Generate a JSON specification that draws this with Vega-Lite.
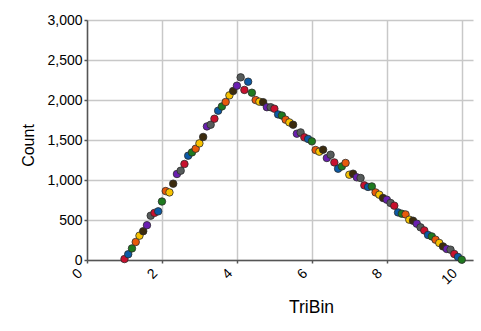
{
  "$schema": "https://vega.github.io/schema/vega-lite/v6.json",
  "autosize": "none",
  "padding": {"left": 87, "top": 20, "right": 8, "bottom": 71},
  "width": 386,
  "height": 240,
  "background": "white",
  "config": {
    "view": {"stroke": null},
    "font": "Liberation Sans"
  },
  "data": {
    "values": [
      {"TriBin": 1.0, "Count": 12, "g": "c1"},
      {"TriBin": 1.1, "Count": 72, "g": "c2"},
      {"TriBin": 1.2, "Count": 145, "g": "c3"},
      {"TriBin": 1.3, "Count": 225, "g": "c4"},
      {"TriBin": 1.4, "Count": 304, "g": "c5"},
      {"TriBin": 1.5, "Count": 360, "g": "c6"},
      {"TriBin": 1.6, "Count": 435, "g": "c7"},
      {"TriBin": 1.7, "Count": 554, "g": "c8"},
      {"TriBin": 1.8, "Count": 589, "g": "c1"},
      {"TriBin": 1.9, "Count": 608, "g": "c2"},
      {"TriBin": 2.0, "Count": 731, "g": "c3"},
      {"TriBin": 2.1, "Count": 862, "g": "c4"},
      {"TriBin": 2.2, "Count": 845, "g": "c5"},
      {"TriBin": 2.3, "Count": 954, "g": "c6"},
      {"TriBin": 2.4, "Count": 1075, "g": "c7"},
      {"TriBin": 2.5, "Count": 1116, "g": "c8"},
      {"TriBin": 2.6, "Count": 1200, "g": "c1"},
      {"TriBin": 2.7, "Count": 1304, "g": "c2"},
      {"TriBin": 2.8, "Count": 1345, "g": "c3"},
      {"TriBin": 2.9, "Count": 1391, "g": "c4"},
      {"TriBin": 3.0, "Count": 1458, "g": "c5"},
      {"TriBin": 3.1, "Count": 1538, "g": "c6"},
      {"TriBin": 3.2, "Count": 1670, "g": "c7"},
      {"TriBin": 3.3, "Count": 1691, "g": "c8"},
      {"TriBin": 3.4, "Count": 1766, "g": "c1"},
      {"TriBin": 3.5, "Count": 1866, "g": "c2"},
      {"TriBin": 3.6, "Count": 1920, "g": "c3"},
      {"TriBin": 3.7, "Count": 1975, "g": "c4"},
      {"TriBin": 3.8, "Count": 2058, "g": "c5"},
      {"TriBin": 3.9, "Count": 2113, "g": "c6"},
      {"TriBin": 4.0, "Count": 2179, "g": "c7"},
      {"TriBin": 4.1, "Count": 2283, "g": "c8"},
      {"TriBin": 4.2, "Count": 2126, "g": "c1"},
      {"TriBin": 4.3, "Count": 2229, "g": "c2"},
      {"TriBin": 4.4, "Count": 2091, "g": "c3"},
      {"TriBin": 4.5, "Count": 2000, "g": "c4"},
      {"TriBin": 4.6, "Count": 1979, "g": "c5"},
      {"TriBin": 4.7, "Count": 1973, "g": "c6"},
      {"TriBin": 4.8, "Count": 1910, "g": "c7"},
      {"TriBin": 4.9, "Count": 1910, "g": "c8"},
      {"TriBin": 5.0, "Count": 1891, "g": "c1"},
      {"TriBin": 5.1, "Count": 1820, "g": "c2"},
      {"TriBin": 5.2, "Count": 1806, "g": "c3"},
      {"TriBin": 5.3, "Count": 1754, "g": "c4"},
      {"TriBin": 5.4, "Count": 1720, "g": "c5"},
      {"TriBin": 5.5, "Count": 1691, "g": "c6"},
      {"TriBin": 5.6, "Count": 1579, "g": "c7"},
      {"TriBin": 5.7, "Count": 1595, "g": "c8"},
      {"TriBin": 5.8, "Count": 1533, "g": "c1"},
      {"TriBin": 5.9, "Count": 1513, "g": "c2"},
      {"TriBin": 6.0, "Count": 1483, "g": "c3"},
      {"TriBin": 6.1, "Count": 1375, "g": "c4"},
      {"TriBin": 6.2, "Count": 1354, "g": "c5"},
      {"TriBin": 6.3, "Count": 1379, "g": "c6"},
      {"TriBin": 6.4, "Count": 1275, "g": "c7"},
      {"TriBin": 6.5, "Count": 1316, "g": "c8"},
      {"TriBin": 6.6, "Count": 1220, "g": "c1"},
      {"TriBin": 6.7, "Count": 1141, "g": "c2"},
      {"TriBin": 6.8, "Count": 1170, "g": "c3"},
      {"TriBin": 6.9, "Count": 1213, "g": "c4"},
      {"TriBin": 7.0, "Count": 1066, "g": "c5"},
      {"TriBin": 7.1, "Count": 1079, "g": "c6"},
      {"TriBin": 7.2, "Count": 1033, "g": "c7"},
      {"TriBin": 7.3, "Count": 1025, "g": "c8"},
      {"TriBin": 7.4, "Count": 933, "g": "c1"},
      {"TriBin": 7.5, "Count": 913, "g": "c2"},
      {"TriBin": 7.6, "Count": 920, "g": "c3"},
      {"TriBin": 7.7, "Count": 845, "g": "c4"},
      {"TriBin": 7.8, "Count": 816, "g": "c5"},
      {"TriBin": 7.9, "Count": 775, "g": "c6"},
      {"TriBin": 8.0, "Count": 754, "g": "c7"},
      {"TriBin": 8.1, "Count": 713, "g": "c8"},
      {"TriBin": 8.2, "Count": 679, "g": "c1"},
      {"TriBin": 8.3, "Count": 595, "g": "c2"},
      {"TriBin": 8.4, "Count": 579, "g": "c3"},
      {"TriBin": 8.5, "Count": 570, "g": "c4"},
      {"TriBin": 8.6, "Count": 504, "g": "c5"},
      {"TriBin": 8.7, "Count": 491, "g": "c6"},
      {"TriBin": 8.8, "Count": 454, "g": "c7"},
      {"TriBin": 8.9, "Count": 408, "g": "c8"},
      {"TriBin": 9.0, "Count": 370, "g": "c1"},
      {"TriBin": 9.1, "Count": 313, "g": "c2"},
      {"TriBin": 9.2, "Count": 295, "g": "c3"},
      {"TriBin": 9.3, "Count": 254, "g": "c4"},
      {"TriBin": 9.4, "Count": 213, "g": "c5"},
      {"TriBin": 9.5, "Count": 170, "g": "c6"},
      {"TriBin": 9.6, "Count": 138, "g": "c7"},
      {"TriBin": 9.7, "Count": 129, "g": "c8"},
      {"TriBin": 9.8, "Count": 75, "g": "c1"},
      {"TriBin": 9.9, "Count": 38, "g": "c2"},
      {"TriBin": 10.0, "Count": 4, "g": "c3"}
    ]
  },
  "mark": {"type": "circle", "size": 56, "opacity": 1, "stroke": "#2b2b2b", "strokeWidth": 0.8},
  "encoding": {
    "x": {
      "field": "TriBin",
      "type": "quantitative",
      "scale": {"domain": [0, 10.3], "nice": false, "zero": false},
      "axis": {
        "values": [0, 2, 4, 6, 8, 10],
        "format": "d",
        "title": "TriBin",
        "titleFont": "Liberation Sans",
        "titleFontSize": 17.5,
        "titleFontWeight": "normal",
        "titleColor": "#000",
        "titleX": 224,
        "titleY": 52,
        "titleAlign": "center",
        "titleBaseline": "alphabetic",
        "labelFont": "Liberation Sans",
        "labelFontSize": 14,
        "labelColor": "#000",
        "labelAngle": -45,
        "labelAlign": "right",
        "labelBaseline": "middle",
        "labelPadding": 8,
        "labelOffset": -7,
        "labelFlush": false,
        "labelOverlap": false,
        "domainColor": "#555",
        "domainWidth": 1.5,
        "tickColor": "#555",
        "tickSize": 3,
        "tickWidth": 1.5,
        "gridColor": "#c8c8c8",
        "gridWidth": 1.5
      }
    },
    "y": {
      "field": "Count",
      "type": "quantitative",
      "scale": {"domain": [0, 3000], "nice": false},
      "axis": {
        "values": [0, 500, 1000, 1500, 2000, 2500, 3000],
        "format": ",d",
        "title": "Count",
        "titleFont": "Liberation Sans",
        "titleFontSize": 16,
        "titleFontWeight": "normal",
        "titleColor": "#000",
        "titleAngle": -90,
        "titleX": -59,
        "titleY": 125,
        "titleAlign": "center",
        "titleBaseline": "middle",
        "labelFont": "Liberation Sans",
        "labelFontSize": 14,
        "labelColor": "#000",
        "labelPadding": 2,
        "labelFlush": false,
        "domainColor": "#555",
        "domainWidth": 1.5,
        "tickColor": "#555",
        "tickSize": 3,
        "tickWidth": 1.5,
        "gridColor": "#c8c8c8",
        "gridWidth": 1.5
      }
    },
    "color": {
      "field": "g",
      "type": "nominal",
      "legend": null,
      "scale": {
        "domain": ["c1", "c2", "c3", "c4", "c5", "c6", "c7", "c8"],
        "range": ["#c8102e", "#0b5aa6", "#1f7a1f", "#e8590c", "#f7c200", "#3b2b0e", "#6a1fb0", "#565b5b"]
      }
    }
  }
}
